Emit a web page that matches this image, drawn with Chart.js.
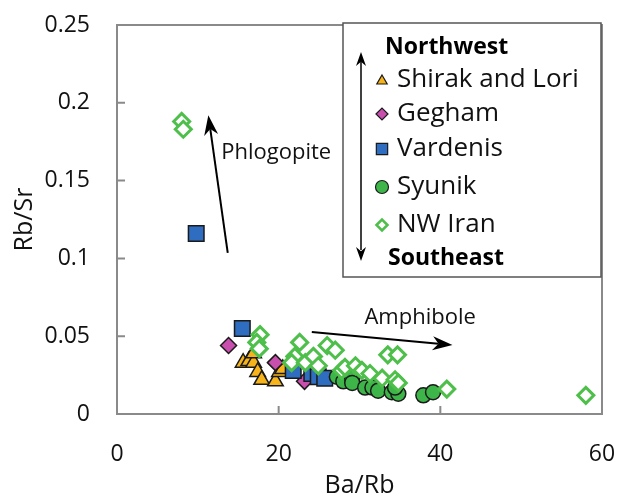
<!DOCTYPE html>
<html><head><meta charset="utf-8">
<script src="https://cdn.jsdelivr.net/npm/chart.js@4/dist/chart.umd.min.js"></script>
<style>html,body{margin:0;padding:0;background:#fff}#wrap{width:617px;height:498px;position:relative}</style>
</head><body><div id="wrap"><canvas id="c" width="617" height="498"></canvas></div>
<script>
// ---- data ----
const seriesNames = ['Shirak and Lori', 'Gegham', 'Vardenis', 'Syunik', 'NW Iran'];
const shirakX = [15.6, 16.3, 16.9, 16.9, 17.4, 17.9, 19.6, 20.1, 20.5];
const shirakY = [0.033, 0.034, 0.033, 0.039, 0.027, 0.022, 0.021, 0.027, 0.029];
const geghamX = [13.8, 19.6, 23.2];
const geghamY = [0.044, 0.033, 0.021];
const vardenisX = [9.8, 15.5, 21.8, 24.1, 24.9, 25.7];
const vardenisY = [0.116, 0.055, 0.028, 0.026, 0.024, 0.023];
const syunikX = [27.2, 28.0, 29.1, 29.1, 30.7, 31.6, 32.3, 34.0, 34.8, 34.4, 37.9, 39.1];
const syunikY = [0.024, 0.021, 0.023, 0.020, 0.017, 0.017, 0.015, 0.014, 0.013, 0.017, 0.012, 0.014];
const nwIranX = [8.0, 8.2, 17.7, 17.3, 17.6, 22.6, 22.0, 21.6, 23.3, 24.3, 24.9, 26.0, 27.0, 27.8, 28.2, 29.5, 30.3, 31.3, 32.8, 34.4, 33.5, 34.7, 34.8, 40.8, 58.0];
const nwIranY = [0.188, 0.183, 0.051, 0.046, 0.042, 0.046, 0.037, 0.033, 0.033, 0.037, 0.031, 0.044, 0.041, 0.028, 0.030, 0.031, 0.028, 0.026, 0.023, 0.022, 0.038, 0.038, 0.020, 0.016, 0.012];
const xTickValues = [0, 20, 40, 60];
const xTickLabels = ['0', '20', '40', '60'];
const yTickValues = [0, 0.05, 0.1, 0.15, 0.2, 0.25];
const yTickLabels = ['0', '0.05', '0.1', '0.15', '0.2', '0.25'];
const xTitle = 'Ba/Rb';
const yTitle = 'Rb/Sr';
const legendTop = 'Northwest';
const legendBottom = 'Southeast';
const phlogopiteLabel = 'Phlogopite';
const phlogopiteFrom = [13.7, 0.1035];
const phlogopiteTo = [11.3, 0.192];
const phlogopiteTextAt = [19.7, 0.168];
const amphiboleLabel = 'Amphibole';
const amphiboleFrom = [24.1, 0.0527];
const amphiboleTo = [41.5, 0.0443];
const amphiboleTextAt = [37.5, 0.0617];

const FONT = "'Open Sans', sans-serif";
const pts = (xs, ys) => xs.map((x, i) => ({x, y: ys[i]}));

const styles = [
  {pointStyle: 'triangle', radius: 9, bg: '#F6B41A', border: '#1a1a1a', bw: 1.5, lr: 6},
  {pointStyle: 'rectRot', radius: 8, bg: '#C94FAE', border: '#1a1a1a', bw: 1.5, lr: 6},
  {pointStyle: 'rect', radius: 11, bg: '#2F6DC0', border: '#1a1a1a', bw: 1.5, lr: 8},
  {pointStyle: 'circle', radius: 7.5, bg: '#3DB549', border: '#1a1a1a', bw: 1.5, lr: 6.5},
  {pointStyle: 'rectRot', radius: 8, bg: '#ffffff', border: '#4DBF4A', bw: 3, lr: 5.5}
];
const seriesData = [pts(shirakX, shirakY), pts(geghamX, geghamY), pts(vardenisX, vardenisY), pts(syunikX, syunikY), pts(nwIranX, nwIranY)];

const datasets = seriesNames.map((name, i) => ({
  label: name,
  data: seriesData[i],
  pointStyle: styles[i].pointStyle,
  pointRadius: styles[i].radius,
  pointBackgroundColor: styles[i].bg,
  pointBorderColor: styles[i].border,
  pointBorderWidth: styles[i].bw,
  pointHoverRadius: styles[i].radius,
  showLine: false,
  order: seriesNames.length - i
}));

function arrowHead(ctx, x1, y1, x2, y2, len, half) {
  const a = Math.atan2(y2 - y1, x2 - x1);
  ctx.save();
  ctx.translate(x2, y2);
  ctx.rotate(a);
  ctx.beginPath();
  ctx.moveTo(0, 0);
  ctx.lineTo(-len, -half);
  ctx.lineTo(-len * 0.7, 0);
  ctx.lineTo(-len, half);
  ctx.closePath();
  ctx.fill();
  ctx.restore();
}
function arrow(ctx, x1, y1, x2, y2, lw, len, half) {
  const a = Math.atan2(y2 - y1, x2 - x1);
  ctx.lineWidth = lw;
  ctx.beginPath();
  ctx.moveTo(x1, y1);
  ctx.lineTo(x2 - Math.cos(a) * len * 0.7, y2 - Math.sin(a) * len * 0.7);
  ctx.stroke();
  arrowHead(ctx, x1, y1, x2, y2, len, half);
}

const framePlugin = {
  id: 'frame',
  beforeDatasetsDraw(chart) {
    const {ctx, chartArea: ca, scales} = chart;
    ctx.save();
    ctx.strokeStyle = '#8a8a8a';
    ctx.lineWidth = 2;
    ctx.strokeRect(ca.left, ca.top, ca.right - ca.left, ca.bottom - ca.top);
    ctx.beginPath();
    yTickValues.forEach(v => {
      if (v === 0 || v === 0.25) return;
      const y = scales.y.getPixelForValue(v);
      ctx.moveTo(ca.left, y); ctx.lineTo(ca.left + 8, y);
    });
    xTickValues.forEach(v => {
      if (v === 0 || v === 60) return;
      const x = scales.x.getPixelForValue(v);
      ctx.moveTo(x, ca.bottom); ctx.lineTo(x, ca.bottom - 8);
    });
    ctx.stroke();
    ctx.restore();
  },
  afterDatasetsDraw(chart) {
    const {ctx, scales} = chart;
    const X = v => scales.x.getPixelForValue(v), Y = v => scales.y.getPixelForValue(v);
    ctx.save();
    ctx.strokeStyle = '#000'; ctx.fillStyle = '#000';
    arrow(ctx, X(phlogopiteFrom[0]), Y(phlogopiteFrom[1]), X(phlogopiteTo[0]), Y(phlogopiteTo[1]), 2, 20, 7);
    arrow(ctx, X(amphiboleFrom[0]), Y(amphiboleFrom[1]), X(amphiboleTo[0]), Y(amphiboleTo[1]), 2, 20, 7);
    ctx.font = '22px ' + FONT;
    ctx.textAlign = 'center'; ctx.textBaseline = 'middle';
    ctx.fillStyle = '#111';
    ctx.fillText(phlogopiteLabel, X(phlogopiteTextAt[0]), Y(phlogopiteTextAt[1]));
    ctx.fillText(amphiboleLabel, X(amphiboleTextAt[0]), Y(amphiboleTextAt[1]));

    // legend box
    const bx = 343, by = 23, bw = 258, bh = 254;
    ctx.fillStyle = '#fff';
    ctx.fillRect(bx, by, bw, bh);
    ctx.strokeStyle = '#555'; ctx.lineWidth = 1.5;
    ctx.strokeRect(bx, by, bw, bh);
    ctx.fillStyle = '#000'; ctx.strokeStyle = '#000';
    ctx.textAlign = 'left';
    ctx.font = 'bold 23px ' + FONT;
    ctx.fillText(legendTop, 385, 47);
    ctx.fillText(legendBottom, 388, 258);
    // vertical double arrow
    ctx.lineWidth = 1.5;
    ctx.beginPath(); ctx.moveTo(361, 62); ctx.lineTo(361, 250); ctx.stroke();
    arrowHead(ctx, 361, 100, 361, 52, 14, 5);
    arrowHead(ctx, 361, 200, 361, 261, 14, 5);
    const rows = [80, 114, 149, 187, 225];
    ctx.font = '26px ' + FONT;
    seriesNames.forEach((name, i) => {
      const s = styles[i];
      ctx.fillStyle = s.bg; ctx.strokeStyle = s.border;
      ctx.lineWidth = i === 4 ? 2.5 : 1.2;
      Chart.helpers.drawPoint(ctx, {pointStyle: s.pointStyle, radius: s.lr, rotation: 0, borderWidth: ctx.lineWidth}, 382, rows[i] + (i === 0 ? 1 : 0));
      ctx.fillStyle = '#111';
      ctx.fillText(name, 397, rows[i]);
    });
    ctx.restore();
  }
};

function zeroPad(s) { s.paddingTop = 0; s.paddingBottom = 0; s.paddingLeft = 0; s.paddingRight = 0; }

new Chart(document.getElementById('c'), {
  type: 'scatter',
  data: {datasets},
  options: {
    responsive: false,
    animation: false,
    devicePixelRatio: 1,
    layout: {padding: {left: 0, top: 25, right: 15, bottom: 0}},
    plugins: {legend: {display: false}, tooltip: {enabled: false}},
    scales: {
      x: {
        type: 'linear', min: 0, max: 60,
        afterBuildTicks: s => { s.ticks = xTickValues.map(v => ({value: v})); },
        afterFit: s => { s.height = 84; zeroPad(s); },
        grid: {display: false, drawTicks: false},
        border: {display: false},
        ticks: {padding: 27, color: '#111', font: {family: FONT, size: 23}, callback: (v) => xTickLabels[xTickValues.indexOf(v)]},
        title: {display: true, text: xTitle, color: '#111', font: {family: FONT, size: 25, lineHeight: 1}, padding: {top: 0, bottom: 0}}
      },
      y: {
        type: 'linear', min: 0, max: 0.25,
        afterBuildTicks: s => { s.ticks = yTickValues.map(v => ({value: v})); },
        afterFit: s => { s.width = 117; zeroPad(s); },
        grid: {display: false, drawTicks: false},
        border: {display: false},
        ticks: {padding: 27, color: '#111', font: {family: FONT, size: 23}, callback: (v) => yTickLabels[yTickValues.indexOf(v)]},
        title: {display: true, text: yTitle, color: '#111', font: {family: FONT, size: 25, lineHeight: 1}, padding: {top: 12, bottom: 0}}
      }
    }
  },
  plugins: [framePlugin]
});
</script>
</body></html>
